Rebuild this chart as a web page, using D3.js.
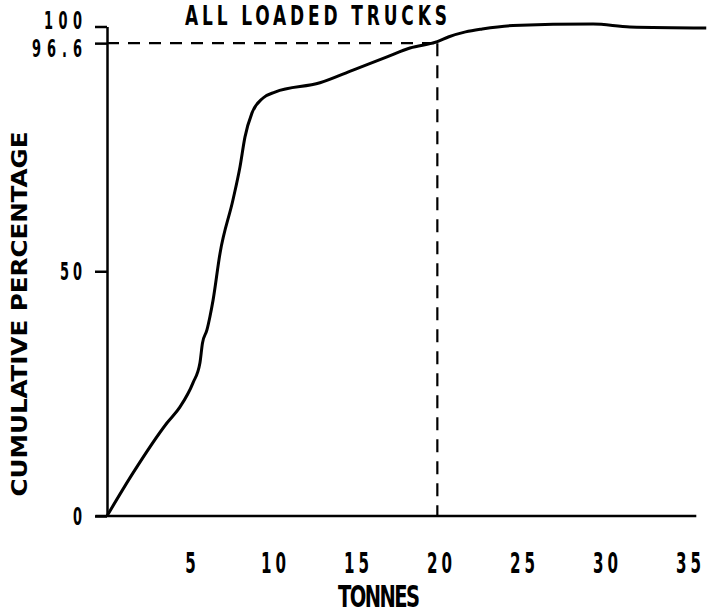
<!DOCTYPE html>
<html>
<head>
<meta charset="utf-8">
<script src="https://cdn.jsdelivr.net/npm/d3@7"></script>
<style>
  body { margin: 0; background: #fff; }
  text { font-family: "DejaVu Sans Condensed", "Liberation Sans Narrow", "DejaVu Sans", sans-serif; font-weight: bold; fill: #000; }
</style>
</head>
<body>
<div class="chart"></div>
<script>
// cumulative curve (tonnes, cumulative %)
var tonnes  = [0, 1.57, 3.61, 4.40, 5.18, 5.60, 5.75, 6.02, 6.20, 6.39, 6.81, 7.59, 8.01, 8.31, 8.73, 9.40, 10.12, 12.83, 14.82, 16.87, 18.25, 19.9, 20.6, 21.6, 22.6, 24.46, 29.28, 31.5, 36.1];
var percent = [0, 8.8, 19.0, 22.3, 27.2, 31.3, 35.3, 38.0, 40.7, 44.1, 53.7, 64.6, 71.3, 77.4, 82.3, 85.4, 86.6, 88.5, 91.1, 93.8, 95.6, 96.9, 97.9, 98.9, 99.5, 100.2, 100.5, 99.9, 99.7];

var xTicks = [5, 10, 15, 20, 25, 30, 35];
var yTicks = [0, 50, 96.6, 100];
var yTickLabels = ["0", "50", "96.6", "100"];

// the marked point (20 tonnes -> 96.6 %)
var markX = 19.9;
var markY = 96.6;

var width = 728, height = 614;

var svg = d3.select(".chart").append("svg")
  .attr("width", width)
  .attr("height", height);

var x = d3.scaleLinear().domain([0, 35]).range([107, 688]);
var y = d3.scaleLinear().domain([0, 100]).range([516, 26.5]);

// narrow, tall plotter-style lettering
var squeeze = 0.6;
var yLabelWidth = { "0": null, "50": 22, "96.6": 50, "100": 38 };

// y axis
var yAxis = d3.axisLeft(y)
  .tickValues(yTicks)
  .tickSize(12)
  .tickSizeOuter(0)
  .tickFormat((d, i) => yTickLabels[i]);

var gy = svg.append("g")
  .attr("transform", `translate(${x(0)},0)`)
  .call(yAxis);
gy.select(".domain").attr("stroke-width", 2.5);
gy.selectAll(".tick line").attr("stroke-width", 2.5);
gy.selectAll(".tick text")
  .attr("x", 0)
  .attr("transform", d => `translate(-25,${d == 100 ? -7 : d == 96.6 ? 5 : 0}) scale(${squeeze},1)`)
  .attr("dy", "0.36em")
  .attr("textLength", (d, i) => yLabelWidth[yTickLabels[i]] ? yLabelWidth[yTickLabels[i]] / squeeze : null)
  .attr("lengthAdjust", "spacing")
  .style("font-size", "24px");

// x axis (line drawn separately so it can run past the origin)
svg.append("line")
  .attr("x1", x(-0.7)).attr("x2", x(35.5))
  .attr("y1", y(0)).attr("y2", y(0))
  .attr("stroke", "#000").attr("stroke-width", 2.5);

var xAxis = d3.axisBottom(x)
  .tickValues(xTicks)
  .tickSize(0)
  .tickPadding(0);

var gx = svg.append("g")
  .attr("transform", `translate(0,${y(0)})`)
  .call(xAxis);
gx.select(".domain").remove();
gx.selectAll(".tick text")
  .attr("y", 0)
  .attr("dy", 0)
  .attr("transform", `translate(0,57) scale(${squeeze},1)`)
  .attr("textLength", d => String(d).length > 1 ? 25 / squeeze : null)
  .attr("lengthAdjust", "spacing")
  .style("font-size", "28px");

// dashed guide lines
svg.append("line")
  .attr("x1", x(0)).attr("x2", x(markX))
  .attr("y1", y(markY)).attr("y2", y(markY))
  .attr("stroke", "#000").attr("stroke-width", 2.2)
  .attr("stroke-dasharray", "12,9");

svg.append("line")
  .attr("x1", x(markX)).attr("x2", x(markX))
  .attr("y1", y(markY)).attr("y2", y(0))
  .attr("stroke", "#000").attr("stroke-width", 2.2)
  .attr("stroke-dasharray", "13,9");

// curve
var pts = tonnes.map((t, i) => [t, percent[i]]);
var line = d3.line()
  .x(d => x(d[0]))
  .y(d => y(d[1]))
  .curve(d3.curveMonotoneX);

svg.append("path")
  .datum(pts)
  .attr("d", line)
  .attr("fill", "none")
  .attr("stroke", "#000")
  .attr("stroke-width", 3)
  .attr("stroke-linejoin", "round");

// titles
svg.append("text")
  .attr("transform", `translate(185,25) scale(0.7,1)`)
  .attr("textLength", 262 / 0.7)
  .attr("lengthAdjust", "spacing")
  .style("font-size", "27px")
  .text("ALL LOADED TRUCKS");

svg.append("text")
  .attr("transform", `translate(379,607) scale(0.7,1)`)
  .attr("text-anchor", "middle")
  .attr("textLength", 82 / 0.7)
  .attr("lengthAdjust", "spacing")
  .style("font-size", "31px")
  .text("TONNES");

svg.append("text")
  .attr("transform", "translate(27,314) rotate(-90)")
  .attr("text-anchor", "middle")
  .attr("textLength", 365)
  .attr("lengthAdjust", "spacingAndGlyphs")
  .style("font-size", "22px")
  .text("CUMULATIVE PERCENTAGE");
</script>
</body>
</html>
